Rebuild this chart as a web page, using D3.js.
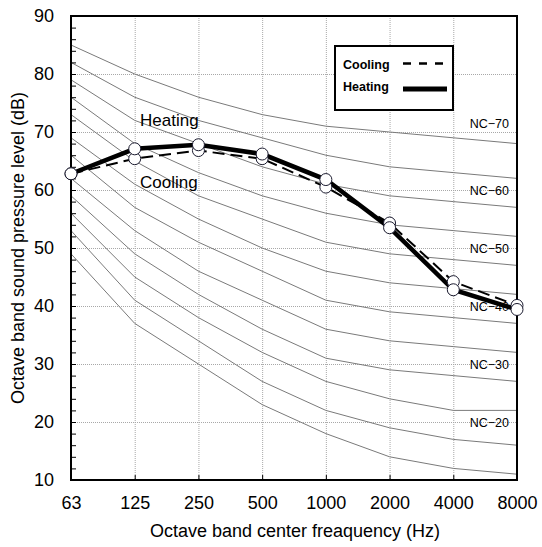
<!DOCTYPE html>
<html>
<head>
<meta charset="utf-8">
<script src="https://cdn.jsdelivr.net/npm/d3@7"></script>
<style>
    body { margin: 0; background: #fff; }
    text { font-family: "Liberation Sans", Arial, sans-serif; }
</style>
</head>
<body>
<svg id="chart" width="542" height="547"></svg>
<script>
var freqs = ["63", "125", "250", "500", "1000", "2000", "4000", "8000"];
var yTicks = [10, 20, 30, 40, 50, 60, 70, 80, 90];

// NC reference curves, dB per octave band
var ncNames = ["NC-70", "NC-65", "NC-60", "NC-55", "NC-50", "NC-45", "NC-40", "NC-35", "NC-30", "NC-25", "NC-20", "NC-15"];
var ncValues = [
    [85, 80, 76, 73, 71, 70, 69, 68],
    [82, 76, 72, 69, 66, 64, 63, 62],
    [79, 72, 68, 64, 61, 59, 58, 57],
    [76, 68, 63, 59, 56, 54, 53, 52],
    [73, 65, 59, 55, 51, 49, 48, 47],
    [69, 61, 55, 50, 46, 44, 43, 42],
    [66, 57, 51, 46, 41, 39, 38, 37],
    [62, 53, 46, 41, 36, 34, 33, 32],
    [59, 49, 42, 36, 31, 29, 28, 27],
    [56, 45, 38, 32, 27, 24, 22, 22],
    [53, 41, 34, 27, 22, 19, 17, 16],
    [49, 37, 30, 23, 18, 14, 12, 11]
];
var ncLabels = ["NC\u221270", "NC\u221260", "NC\u221250", "NC\u221240", "NC\u221230", "NC\u221220"];
var ncLabelLevels = [71.5, 60, 50, 40, 30, 20];

var cooling = [62.8, 65.4, 66.8, 65.4, 60.5, 54.3, 44.2, 40.1];
var heating = [62.8, 67.1, 67.8, 66.2, 61.8, 53.5, 42.8, 39.4];

var svg = d3.select("#chart"),
    margins = {"left": 71, "right": 25, "top": 16, "bottom": 67},
    width = 542, height = 547;

var x = d3.scalePoint().domain(freqs).range([margins.left, width - margins.right]),
    y = d3.scaleLinear().domain([10, 90]).range([height - margins.bottom, margins.top]);

// grid
var grid = svg.append("g").attr("stroke", "#a8a8a8").attr("stroke-width", 1).attr("stroke-dasharray", "1,1");
grid.selectAll(".hg").data(yTicks.slice(1, -1)).enter().append("line")
    .attr("x1", margins.left).attr("x2", width - margins.right)
    .attr("y1", d => y(d) + 0.5).attr("y2", d => y(d) + 0.5);
grid.selectAll(".vg").data(freqs.slice(1, -1)).enter().append("line")
    .attr("x1", d => x(d) + 0.5).attr("x2", d => x(d) + 0.5)
    .attr("y1", margins.top).attr("y2", height - margins.bottom);

// NC curves
var ncLine = d3.line().x((d, i) => x(freqs[i])).y(d => y(d));
svg.append("g").attr("fill", "none").attr("stroke", "#7a7a7a").attr("stroke-width", 1)
    .selectAll("path").data(ncValues).enter().append("path").attr("d", ncLine);

svg.append("g").selectAll("text").data(ncLabels).enter().append("text")
    .attr("x", 509).attr("y", (d, i) => y(ncLabelLevels[i]) + 4.5)
    .attr("text-anchor", "end").attr("font-size", "12.5px").attr("fill", "#000")
    .text(d => d);

// axes
var yAxis = d3.axisLeft(y).tickValues(yTicks).tickSizeInner(-5).tickSizeOuter(0).tickPadding(17);
var gy = svg.append("g").attr("transform", "translate(" + margins.left + ",0)").call(yAxis);
gy.selectAll("text").attr("font-size", "18px").attr("fill", "#000");
gy.selectAll(".tick line").attr("stroke", "#000");
gy.select(".domain").remove();

var minor = d3.range(12, 90, 2).filter(v => v % 10 != 0);
svg.append("g").attr("stroke", "#000").selectAll("line").data(minor).enter().append("line")
    .attr("x1", margins.left).attr("x2", margins.left + 5)
    .attr("y1", d => y(d) + 0.5).attr("y2", d => y(d) + 0.5);

var xAxis = d3.axisBottom(x).tickSizeInner(-5).tickSizeOuter(0).tickPadding(16);
var gx = svg.append("g").attr("transform", "translate(0," + (height - margins.bottom) + ")").call(xAxis);
gx.selectAll("text").attr("font-size", "18px").attr("fill", "#000");
gx.selectAll(".tick line").attr("stroke", "#000");
gx.select(".domain").remove();

svg.append("rect").attr("x", margins.left).attr("y", margins.top)
    .attr("width", width - margins.left - margins.right).attr("height", height - margins.top - margins.bottom)
    .attr("fill", "none").attr("stroke", "#000").attr("stroke-width", 2);

// data lines
var line = d3.line().x((d, i) => x(freqs[i])).y(d => y(d));
svg.append("path").datum(cooling).attr("d", line).attr("fill", "none")
    .attr("stroke", "#000").attr("stroke-width", 2).attr("stroke-dasharray", "12,6");
svg.append("path").datum(heating).attr("d", line).attr("fill", "none")
    .attr("stroke", "#000").attr("stroke-width", 4.5);

[cooling, heating].forEach(series => {
    svg.append("g").selectAll("circle").data(series).enter().append("circle")
        .attr("cx", (d, i) => x(freqs[i])).attr("cy", d => y(d)).attr("r", 6)
        .attr("fill", "#fff").attr("stroke", "#1a1a2e").attr("stroke-width", 1);
});

svg.append("text").attr("x", 140).attr("y", 126).attr("font-size", "17px").text("Heating");
svg.append("text").attr("x", 140).attr("y", 188).attr("font-size", "17px").text("Cooling");

// legend
var lg = svg.append("g").attr("transform", "translate(335,46)");
lg.append("rect").attr("width", 118).attr("height", 64).attr("fill", "#fff").attr("stroke", "#000").attr("stroke-width", 2);
lg.append("text").attr("x", 8).attr("y", 23).attr("font-size", "12.5px").attr("font-weight", "bold").text("Cooling");
lg.append("text").attr("x", 8).attr("y", 45).attr("font-size", "12.5px").attr("font-weight", "bold").text("Heating");
lg.append("line").attr("x1", 68).attr("x2", 112).attr("y1", 17.5).attr("y2", 17.5)
    .attr("stroke", "#000").attr("stroke-width", 2.5).attr("stroke-dasharray", "8,8");
lg.append("line").attr("x1", 68).attr("x2", 112).attr("y1", 43).attr("y2", 43)
    .attr("stroke", "#000").attr("stroke-width", 5);

// axis titles
svg.append("text").attr("x", 295).attr("y", 537).attr("text-anchor", "middle")
    .attr("font-size", "18px").text("Octave band center freaquency (Hz)");
svg.append("text").attr("transform", "translate(24," + ((margins.top + height - margins.bottom) / 2) + ") rotate(-90)")
    .attr("text-anchor", "middle").attr("font-size", "18px").text("Octave band sound pressure level (dB)");
</script>
</body>
</html>
